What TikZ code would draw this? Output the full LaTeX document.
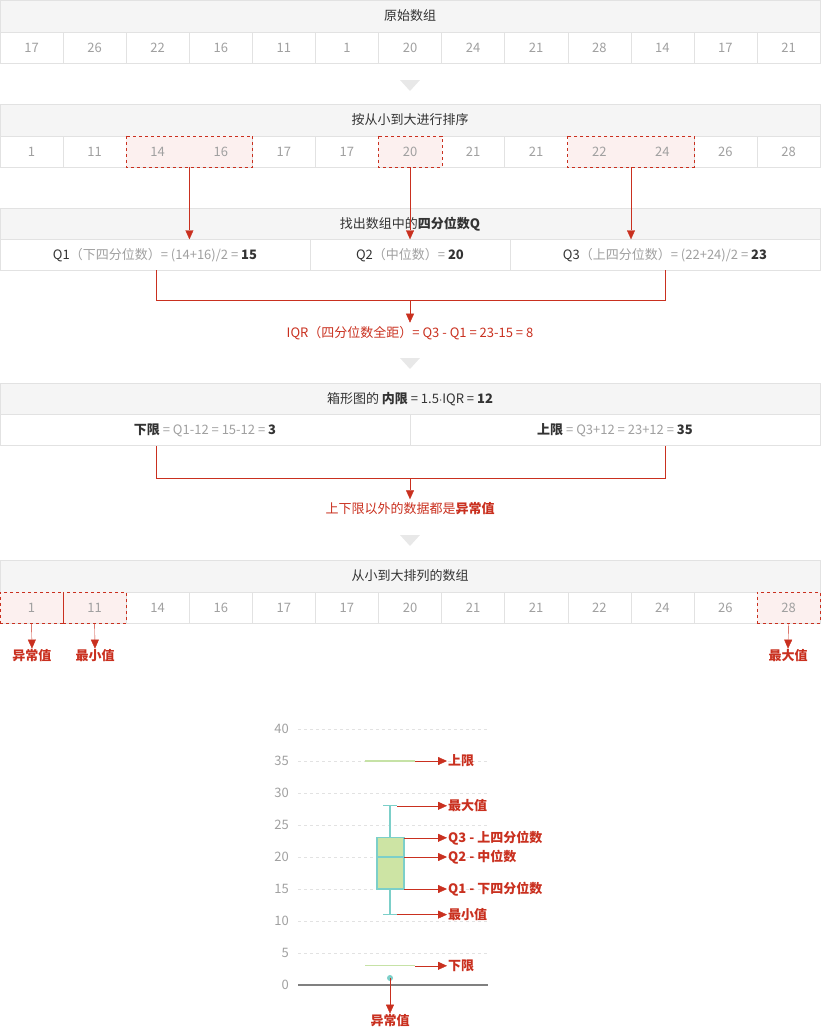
\documentclass[tikz,border=0pt]{standalone}
\usepackage{fontspec}
\setmainfont{Noto Sans CJK SC}
\usetikzlibrary{arrows.meta}
\definecolor{hired}{HTML}{C9301F}
\definecolor{headbg}{HTML}{F5F5F5}
\definecolor{lineg}{HTML}{E2E2E2}
\definecolor{txtg}{HTML}{A0A0A0}
\definecolor{txtd}{HTML}{333333}
\definecolor{markbg}{HTML}{FCF0EF}
\definecolor{boxfill}{HTML}{CDE4A4}
\definecolor{boxline}{HTML}{7CCFC9}
\definecolor{limg}{HTML}{C6E2A6}
\tikzset{
  head/.style={draw=lineg,fill=headbg,minimum width=820pt,minimum height=32pt,inner sep=0pt,text=txtd},
  cell/.style={draw=lineg,fill=white,minimum width=63.08pt,minimum height=31pt,inner sep=0pt,text=txtg},
  wcell/.style={draw=lineg,fill=white,minimum height=31pt,inner sep=0pt,text=txtg},
  marked/.style={draw=hired,dashed,fill=markbg},
  redarrow/.style={draw=hired,-{Triangle[length=9pt,width=8pt]}},
  hint/.style={fill=lineg!80,draw=none},
  note/.style={text=hired,font=\fontsize{13}{15}\selectfont\bfseries,inner sep=1pt},
}
\begin{document}
\begin{tikzpicture}[x=1pt,y=-1pt,font=\fontsize{13}{15}\selectfont]
\useasboundingbox (0,0) rectangle (820,1029);
%% first array
\node[head] (h1) at (410,16) {原始数组};
\foreach \v [count=\i from 0] in {17,26,22,16,11,1,20,24,21,28,14,17,21}
  \node[cell] (a\i) at ({31.54+63.08*\i},47.5) {\v};
\fill[hint] (400,80) -- (420,80) -- (410,91) -- cycle;
%% sorted array
\node[head] (h2) at (410,120) {按从小到大进行排序};
\foreach \v [count=\i from 0] in {1,11,14,16,17,17,20,21,21,22,24,26,28}
  \node[cell] (s\i) at ({31.54+63.08*\i},151.5) {\v};
\foreach \v/\i in {14/2,16/3,20/6,22/9,24/10}
  \node[cell,fill=markbg,draw=none] at (s\i) {\v};
\draw[hired,dashed] (s2.north west) rectangle (s3.south east);
\draw[hired,dashed] (s6.north west) rectangle (s6.south east);
\draw[hired,dashed] (s9.north west) rectangle (s10.south east);
%% quartiles
\node[head] (h3) at (410,224) {找出数组中的\textbf{四分位数Q}};
\node[wcell,minimum width=310pt] (q1) at (155,255) {\textcolor{txtd}{Q1}（下四分位数）= (14+16)/2 = \textcolor{txtd}{\textbf{15}}};
\node[wcell,minimum width=200pt] (q2) at (410,255) {\textcolor{txtd}{Q2}（中位数）= \textcolor{txtd}{\textbf{20}}};
\node[wcell,minimum width=310pt] (q3) at (665,255) {\textcolor{txtd}{Q3}（上四分位数）= (22+24)/2 = \textcolor{txtd}{\textbf{23}}};
\draw[redarrow] (s2.south east) -- (s2.south east |- q1.north);
\draw[redarrow] (s6.south) -- (s6.south |- q2.north);
\draw[redarrow] (s9.south east) -- (s9.south east |- q3.north);
\node[text=hired] (iqr) at (410,333) {IQR（四分位数全距）= Q3 - Q1 = 23-15 = 8};
\coordinate (b1) at (410,300);
\draw[hired] (156,270) -- (156,300) -- (665,300) -- (665,270);
\draw[redarrow] (b1) -- (iqr.north);
\fill[hint] (400,358) -- (420,358) -- (410,369) -- cycle;
%% fences
\node[head] (h4) at (410,399) {箱形图的 \textbf{内限} = 1.5$\cdot$IQR = \textbf{12}};
\node[wcell,minimum width=410pt] (lo) at (205,430) {\textcolor{txtd}{\textbf{下限}} =  Q1-12 = 15-12 = \textcolor{txtd}{\textbf{3}}};
\node[wcell,minimum width=410pt] (up) at (615,430) {\textcolor{txtd}{\textbf{上限}} =  Q3+12 = 23+12 = \textcolor{txtd}{\textbf{35}}};
\node[text=hired] (out) at (410,509) {上下限以外的数据都是\textbf{异常值}};
\coordinate (b2) at (410,478);
\draw[hired] (156,446) -- (156,478) -- (665,478) -- (665,446);
\draw[redarrow] (b2) -- (out.north);
\fill[hint] (400,535) -- (420,535) -- (410,546) -- cycle;
%% final array
\node[head] (h5) at (410,576) {从小到大排列的数组};
\foreach \v [count=\i from 0] in {1,11,14,16,17,17,20,21,21,22,24,26,28}
  \node[cell] (f\i) at ({31.54+63.08*\i},607.5) {\v};
\foreach \v/\i in {1/0,11/1,28/12}
  \node[cell,marked] at (f\i) {\v};
\draw[hired] (f0.north east) -- (f0.south east);
\node[note] (l0) at (32,656) {异常值};
\node[note] (l1) at (95,656) {最小值};
\node[note] (l12) at (788,656) {最大值};
\foreach \i in {0,1,12}
  \draw[redarrow] (f\i.south) -- (l\i.north);
%% box plot
\foreach \v in {5,10,...,40}
  \draw[lineg,dashed] (298,{985-6.4*\v}) -- (488,{985-6.4*\v});
\foreach \v in {0,5,...,40}
  \node[text=txtg,anchor=east,inner sep=0pt] at (289,{985-6.4*\v}) {\v};
\draw[gray,line width=1.2pt] (298,985) -- (488,985);
\draw[boxline,line width=1.2pt] (390,{985-6.4*28}) -- (390,{985-6.4*23})
  (390,{985-6.4*15}) -- (390,{985-6.4*11})
  (383,{985-6.4*28}) -- (397,{985-6.4*28})
  (383,{985-6.4*11}) -- (397,{985-6.4*11});
\draw[boxline,fill=boxfill,line width=1.2pt] (377,{985-6.4*23}) rectangle (404,{985-6.4*15});
\draw[boxline,line width=1.8pt] (377,{985-6.4*20}) -- (404,{985-6.4*20});
\draw[limg,line width=1.2pt] (365,{985-6.4*35}) -- (415,{985-6.4*35});
\draw[limg,line width=1.2pt] (365,{985-6.4*3}) -- (415,{985-6.4*3});
\fill[boxline] (390,978) circle (3pt);
\foreach \v/\n/\t in {35/pu/上限,28/pmax/最大值,23/pq3/Q3 - 上四分位数,20/pq2/Q2 - 中位数,15/pq1/Q1 - 下四分位数,11/pmin/最小值,3/pl/下限}{
  \coordinate (\n) at ({\v==20 || \v==23 || \v==15 ? 404 : (\v==35 || \v==3 ? 415 : 397)},{985-6.4*\v});
  \node[note,anchor=west] (t\n) at (447,{985-6.4*\v}) {\t};
  \draw[redarrow] (\n) -- (t\n.west);
}
\coordinate (dot) at (390,978);
\node[note] (tout) at (390,1021) {异常值};
\draw[redarrow] (dot) -- (tout.north);
\end{tikzpicture}
\end{document}
